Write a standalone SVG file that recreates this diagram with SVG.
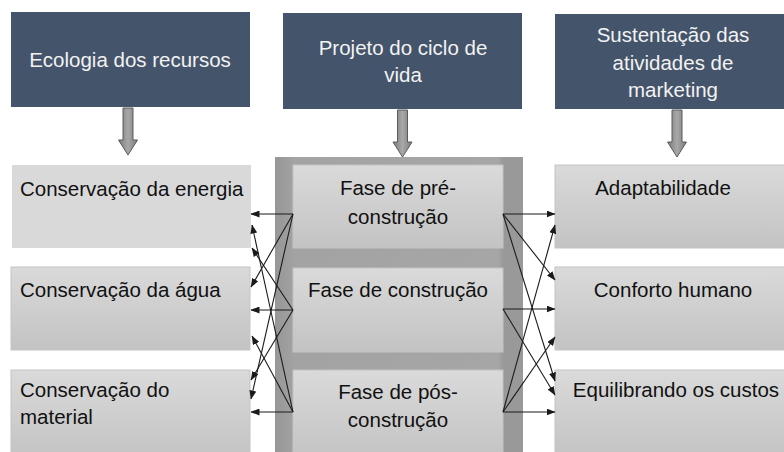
<svg xmlns="http://www.w3.org/2000/svg" width="784" height="452" viewBox="0 0 784 452">
<style>
.hdr{fill:#44546a;}
.ht{font-family:"Liberation Sans",Arial,sans-serif;font-size:20.5px;fill:#f2f2f2;text-anchor:middle;}
.bt{font-family:"Liberation Sans",Arial,sans-serif;font-size:20.5px;fill:#111;}
.c{text-anchor:middle;}
.box{fill:url(#g1);stroke:#c4c4c4;stroke-width:1;}
.conn line{stroke:#1a1a1a;stroke-width:1.1;marker-end:url(#ah);}
.darr{fill:url(#ga);stroke:#5a5a5a;stroke-width:1;}
</style>
<defs>
<linearGradient id="g1" x1="0" y1="0" x2="0" y2="1">
<stop offset="0" stop-color="#dadada"/>
<stop offset="1" stop-color="#c3c3c3"/>
</linearGradient>
<linearGradient id="gc" x1="0" y1="0" x2="1" y2="0">
<stop offset="0" stop-color="#969696"/>
<stop offset="0.08" stop-color="#a3a3a3"/>
<stop offset="0.9" stop-color="#a6a6a6"/>
<stop offset="0.92" stop-color="#999"/>
<stop offset="1" stop-color="#999"/>
</linearGradient>
<linearGradient id="ga" x1="0" y1="0" x2="1" y2="0">
<stop offset="0" stop-color="#7a7a7a"/>
<stop offset="0.5" stop-color="#a8a8a8"/>
<stop offset="1" stop-color="#7a7a7a"/>
</linearGradient>
<marker id="ah" markerWidth="9" markerHeight="7" refX="8.5" refY="3.5" orient="auto" markerUnits="userSpaceOnUse">
<path d="M0,0 L9,3.5 L0,7 Z" fill="#1a1a1a"/>
</marker>
</defs>
<rect width="784" height="452" fill="#ffffff"/>

<g id="header-left">
<rect class="hdr" x="11" y="12" width="239" height="95"/>
<text class="ht" x="130" y="67">Ecologia dos recursos</text>
</g>
<g id="header-mid">
<rect class="hdr" x="283" y="13" width="239" height="96"/>
<text class="ht" x="403" y="55">Projeto do ciclo de</text>
<text class="ht" x="403" y="82">vida</text>
</g>
<g id="header-right">
<rect class="hdr" x="555" y="14" width="240" height="95"/>
<text class="ht" x="673" y="42">Sustentação das</text>
<text class="ht" x="673" y="70">atividades de</text>
<text class="ht" x="673" y="97">marketing</text>
</g>

<g id="down-arrows">
<path class="darr" d="M123,108 H133 V140 H137.5 L128,155 L118.5,140 H123 Z"/>
<path class="darr" d="M397.5,110 H407.5 V142 H412 L402.5,157 L393,142 H397.5 Z"/>
<path class="darr" d="M672,110 H682 V142 H686.5 L677,157 L667.5,142 H672 Z"/>
</g>

<g id="lifecycle-container">
<rect x="275" y="157" width="248" height="300" fill="url(#gc)"/>
</g>

<g id="left-1">
<rect x="12" y="165" width="239" height="83" fill="#d9d9d9"/>
<text class="bt" x="20" y="196">Conservação da energia</text>
</g>
<g id="left-2">
<rect class="box" x="11" y="267" width="239" height="83"/>
<text class="bt" x="20" y="297">Conservação da água</text>
</g>
<g id="left-3">
<rect class="box" x="11" y="370" width="239" height="90"/>
<text class="bt" x="20" y="397">Conservação do</text>
<text class="bt" x="20" y="424">material</text>
</g>

<g id="mid-1">
<rect class="box" x="293" y="165" width="210" height="83"/>
<text class="bt c" x="398" y="195">Fase de pré-</text>
<text class="bt c" x="398" y="224">construção</text>
</g>
<g id="mid-2">
<rect class="box" x="293" y="268" width="210" height="84"/>
<text class="bt c" x="398" y="297">Fase de construção</text>
</g>
<g id="mid-3">
<rect class="box" x="293" y="370" width="210" height="90"/>
<text class="bt c" x="398" y="399">Fase de pós-</text>
<text class="bt c" x="398" y="427">construção</text>
</g>

<g id="right-1">
<rect class="box" x="555" y="165" width="240" height="83"/>
<text class="bt c" x="663" y="195">Adaptabilidade</text>
</g>
<g id="right-2">
<rect class="box" x="555" y="267" width="240" height="83"/>
<text class="bt c" x="673" y="297">Conforto humano</text>
</g>
<g id="right-3">
<rect class="box" x="555" y="370" width="240" height="90"/>
<text class="bt c" x="676" y="397">Equilibrando os custos</text>
</g>

<g id="connectors" class="conn">
<line x1="293" y1="214" x2="251" y2="214"/>
<line x1="293" y1="214" x2="251" y2="287"/>
<line x1="293" y1="214" x2="251" y2="399"/>
<line x1="293" y1="310" x2="251" y2="310"/>
<line x1="293" y1="310" x2="252" y2="248"/>
<line x1="293" y1="310" x2="251" y2="380"/>
<line x1="293" y1="412" x2="251" y2="412"/>
<line x1="293" y1="412" x2="252" y2="225"/>
<line x1="293" y1="412" x2="252" y2="336"/>
<line x1="503" y1="214" x2="555" y2="214"/>
<line x1="503" y1="214" x2="555" y2="280"/>
<line x1="503" y1="214" x2="555" y2="381"/>
<line x1="503" y1="309" x2="555" y2="309"/>
<line x1="503" y1="309" x2="555" y2="395"/>
<line x1="503" y1="412" x2="555" y2="412"/>
<line x1="503" y1="412" x2="555" y2="225"/>
<line x1="503" y1="412" x2="555" y2="337"/>
</g>
</svg>
